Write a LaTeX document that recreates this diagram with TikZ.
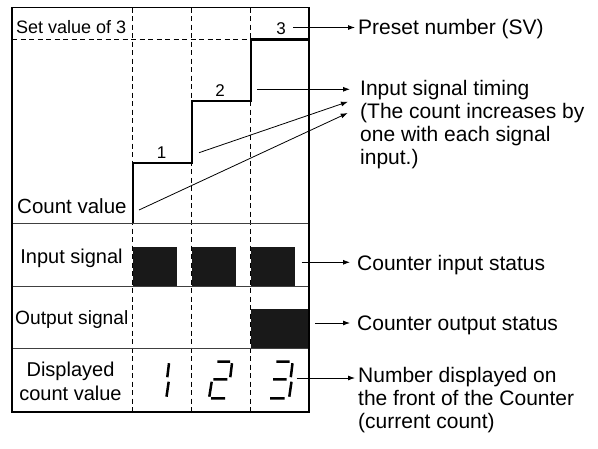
\documentclass[tikz,border=0pt]{standalone}
\usepackage{fontspec}
\setmainfont{Liberation Sans}
\usetikzlibrary{arrows.meta,positioning}

\begin{document}
\begin{tikzpicture}[x=1pt,y=-1pt,>={Latex[length=7pt,width=5pt]},
  lbl/.style={font=\fontsize{20}{24}\selectfont,inner sep=0pt},
  note/.style={font=\fontsize{21}{23}\selectfont,inner sep=0pt,align=left},
  stepno/.style={font=\fontsize{17}{19}\selectfont,inner sep=0pt},
  grid/.style={line width=0.8pt,dash pattern=on 5pt off 3.5pt},
  rowsep/.style={line width=0.8pt,black!75},
  frame/.style={line width=1.3pt},
  stair/.style={line width=2.4pt},
  pulse/.style={fill=black!90},
  seg/.style={line width=2.5pt},
  lead/.style={line width=0.8pt}]
  \useasboundingbox (0,0) rectangle (598,448);

  % pulses
  \fill[pulse] (132.7,246.7) rectangle (176.7,285.7);
  \fill[pulse] (191.7,246.7) rectangle (235.7,285.7);
  \fill[pulse] (250.7,246.7) rectangle (295,285.7);
  \fill[pulse] (250.7,308.7) rectangle (309,347.7);

  % grid
  \foreach \x in {132.7,191.7,250.7}
    \draw[grid] (\x,7.5) -- (\x,412);
  \draw[grid] (12,39.5) -- (309,39.5);
  \foreach \y in {223,286,348}
    \draw[rowsep] (12,\y) -- (309,\y);

  % count value
  \draw[stair] (132.7,223) |- (191.7,162.7) |- (250.7,100.7) |- (309,39.5);
  \draw[frame] (12,7.5) rectangle (309,412);

  \node[stepno,anchor=base] (n1) at (161.7,158.3) {1};
  \node[stepno,anchor=base] (n2) at (220,96.7) {2};
  \node[stepno,anchor=base] (n3) at (281,34) {3};

  % seven segment digits
  \begin{scope}[shift={(148,361.7)}]
    \draw[seg] (21,1.5) -- (19.3,15.5) (20.7,20) -- (18.5,35);
  \end{scope}
  \begin{scope}[shift={(211,361.7)}]
    \draw[seg] (6.3,0) -- (19,0) (21,1.5) -- (19.3,15.5) (2.3,17.6) -- (16.3,17.6)
      (0.7,20) -- (-1.7,35) (0,36.6) -- (14,36.6);
  \end{scope}
  \begin{scope}[shift={(270,361.7)}]
    \draw[seg] (6.3,0) -- (19.5,0) (22.5,1.5) -- (20.8,15.5) (3,17.6) -- (16.5,17.6)
      (21.5,20) -- (19.3,35) (0,36.6) -- (14.5,36.6);
  \end{scope}

  % row labels
  \node[lbl,font=\fontsize{18}{20}\selectfont,anchor=base west] (setval) at (16,33.3) {Set value of 3};
  \node[lbl,font=\fontsize{20.5}{24}\selectfont,anchor=base west] (countval) at (17,213.3) {Count value};
  \node[lbl,anchor=base] (insig) at (71.5,263) {Input signal};
  \node[lbl,font=\fontsize{19.2}{22}\selectfont,anchor=base west] (outsig) at (15,324.3) {Output signal};
  \node[lbl,align=center,anchor=north] (dispval) at (70.5,361.4) {Displayed\\count value};

  % notes
  \node[note,anchor=base west] (preset) at (358,34.5) {Preset number (SV)};
  \node[note,anchor=north west] (timing) at (360,80)
    {Input signal timing\\(The count increases by\\one with each signal\\input.)};
  \node[note,anchor=base west] (cin) at (357,270) {Counter input status};
  \node[note,anchor=base west] (cout) at (357,330) {Counter output status};
  \node[note,anchor=north west] (numdisp) at (358,367.5)
    {Number displayed on\\the front of the Counter\\(current count)};

  % leaders
  \coordinate (s3) at (293.3,27.5);
  \coordinate (t0) at (257,89.3);
  \coordinate (t1) at (199,152.7);
  \coordinate (t1e) at (348,101.7);
  \coordinate (t2) at (139,210);
  \coordinate (t2e) at (347.7,113);
  \coordinate (ci) at (301.7,262.3);
  \coordinate (co) at (315,323);
  \coordinate (nd) at (296.7,378);
  \draw[lead,->,shorten >=3pt] (s3) -- (s3 -| preset.west);
  \draw[lead,->,shorten >=10pt] (t0) -- (t0 -| timing.west);
  \draw[lead,->] (t1) -- (t1e);
  \draw[lead,->] (t2) -- (t2e);
  \draw[lead,->,shorten >=7pt] (ci) -- (ci -| cin.west);
  \draw[lead,->,shorten >=7pt] (co) -- (co -| cout.west);
  \draw[lead,->,shorten >=3pt] (nd) -- (nd -| numdisp.west);
\end{tikzpicture}
\end{document}
